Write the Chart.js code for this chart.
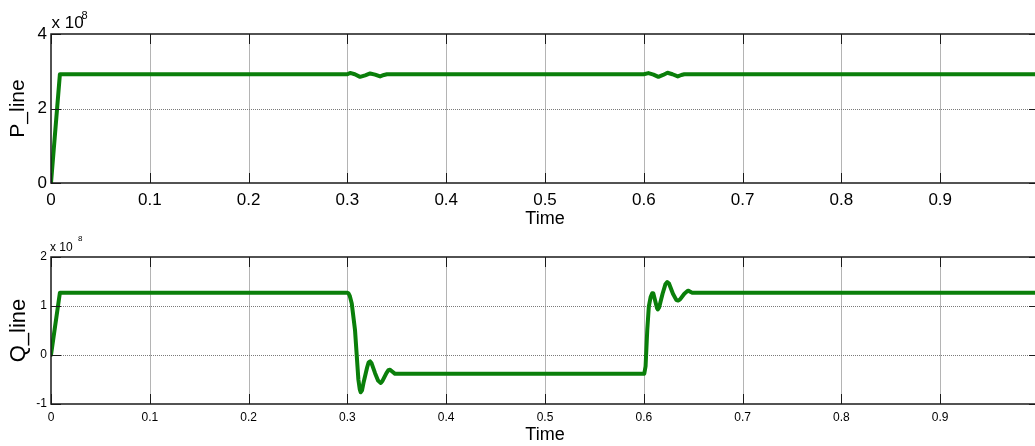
<!DOCTYPE html>
<html>
<head>
<meta charset="utf-8">
<title>P_line and Q_line vs Time</title>
<script src="https://cdn.jsdelivr.net/npm/chart.js@4.4.1/dist/chart.umd.min.js"></script>
<style>
  html, body { margin: 0; padding: 0; background: #ffffff; overflow: hidden; width: 1035px; height: 446px; }
  .panel { position: absolute; left: 0; }
  #wrapP { top: 0; width: 1045px; height: 230px; }
  #wrapQ { top: 230px; width: 1045px; height: 216px; }
  canvas { display: block; }
</style>
</head>
<body>
<div class="panel" id="wrapP"><canvas id="chartP" width="1045" height="230"></canvas></div>
<div class="panel" id="wrapQ"><canvas id="chartQ" width="1045" height="216"></canvas></div>
<script>
// ---------------- data (values in units of 10^8) ----------------
const timeTicks = [0, 0.1, 0.2, 0.3, 0.4, 0.5, 0.6, 0.7, 0.8, 0.9, 1];
const pTicks = [0, 2, 4];
const qTicks = [-1, 0, 1, 2];

const pTime  = [0, 0.009, 0.300, 0.3027, 0.3075, 0.3128, 0.318, 0.323, 0.328, 0.3331, 0.337, 0.340,
                0.600, 0.6047, 0.6098, 0.6148, 0.6195, 0.624, 0.629, 0.6344, 0.638, 0.641, 1.0];
const pValue = [0, 2.92, 2.92, 2.955, 2.92, 2.85, 2.89, 2.94, 2.91, 2.86, 2.90, 2.92,
                2.92, 2.95, 2.91, 2.85, 2.90, 2.96, 2.92, 2.86, 2.90, 2.92, 2.92];

const qTime  = [0, 0.009, 0.300, 0.3011, 0.3025, 0.3044, 0.3077, 0.3111, 0.3125, 0.3135, 0.3148,
                0.3165, 0.3200, 0.3215, 0.3230, 0.3245, 0.3280, 0.3310, 0.3338, 0.3355, 0.3395,
                0.3415, 0.3432, 0.3450, 0.3483,
                0.600, 0.6005, 0.6018, 0.6035, 0.6051, 0.6070, 0.6085, 0.6096, 0.6110, 0.6135,
                0.6142, 0.6155, 0.6190, 0.6220, 0.6237, 0.6255, 0.6295, 0.6330, 0.6348, 0.6365,
                0.6410, 0.6445, 0.6456, 0.6470, 0.6490, 1.0];
const qValue = [0, 1.27, 1.27, 1.26, 1.20, 1.05, 0.51, -0.50, -0.70, -0.76, -0.72,
                -0.55, -0.25, -0.15, -0.13, -0.17, -0.37, -0.52, -0.57, -0.53, -0.37,
                -0.31, -0.30, -0.33, -0.385,
                -0.385, -0.38, -0.23, 0.51, 0.99, 1.19, 1.26, 1.26, 1.15, 0.95,
                0.93, 0.97, 1.25, 1.45, 1.49, 1.46, 1.25, 1.12, 1.11, 1.13,
                1.25, 1.31, 1.31, 1.29, 1.27, 1.27];

// ---------------- styling ----------------
const FONT = "'Liberation Sans', Arial, Helvetica, sans-serif";
const GREEN = '#0a7f0a';

const matlabAxes = {
  id: 'matlabAxes',
  beforeDatasetsDraw(chart) {
    const { ctx, chartArea: a, scales: { x, y } } = chart;
    ctx.save();
    ctx.lineWidth = 1;
    ctx.strokeStyle = '#b4b4b4';
    x.ticks.forEach(t => {
      if (t.value <= x.min || t.value >= x.max) return;
      const px = Math.round(x.getPixelForValue(t.value)) + 0.5;
      ctx.beginPath(); ctx.moveTo(px, a.top); ctx.lineTo(px, a.bottom); ctx.stroke();
    });
    ctx.setLineDash([1, 1]);
    ctx.strokeStyle = '#7a7a7a';
    y.ticks.forEach(t => {
      if (t.value <= y.min || t.value >= y.max) return;
      const py = Math.round(y.getPixelForValue(t.value)) + 0.5;
      ctx.beginPath(); ctx.moveTo(a.left, py); ctx.lineTo(a.right, py); ctx.stroke();
    });
    ctx.restore();
  },
  afterDatasetsDraw(chart, args, o) {
    const { ctx, chartArea: a, scales: { x, y } } = chart;
    const len = o.tickLen || 10;
    ctx.save();
    ctx.strokeStyle = '#1a1a1a';
    ctx.lineWidth = 1;
    x.ticks.forEach(t => {
      const px = Math.round(x.getPixelForValue(t.value)) + 0.5;
      ctx.beginPath();
      ctx.moveTo(px, a.top); ctx.lineTo(px, a.top + len);
      ctx.moveTo(px, a.bottom); ctx.lineTo(px, a.bottom - len);
      ctx.stroke();
    });
    y.ticks.forEach(t => {
      const py = Math.round(y.getPixelForValue(t.value)) + 0.5;
      ctx.beginPath();
      ctx.moveTo(a.left, py); ctx.lineTo(a.left + len, py);
      ctx.moveTo(a.right, py); ctx.lineTo(a.right - len, py);
      ctx.stroke();
    });
    ctx.lineWidth = 1.5;
    ctx.strokeRect(a.left, a.top, a.right - a.left, a.bottom - a.top);
    ctx.restore();
  },
  afterDraw(chart, args, o) {
    const ctx = chart.ctx;
    ctx.save();
    ctx.fillStyle = '#000';
    ctx.textBaseline = 'alphabetic';
    ctx.textAlign = 'left';
    ctx.font = o.expSize + 'px ' + FONT;
    ctx.fillText('x 10', o.expX, o.expY);
    ctx.font = o.supSize + 'px ' + FONT;
    ctx.fillText('8', o.supX, o.supY);
    ctx.restore();
  }
};

function points(times, values) {
  return times.map((t, i) => ({ x: t, y: values[i] }));
}

function makeChart(id, cfg) {
  return new Chart(document.getElementById(id), {
    type: 'line',
    data: {
      datasets: [{
        data: points(cfg.times, cfg.values),
        borderColor: GREEN,
        backgroundColor: GREEN,
        borderWidth: 4,
        pointRadius: 0,
        tension: 0,
        borderJoinStyle: 'round',
        borderCapStyle: 'round',
        fill: false
      }]
    },
    options: {
      responsive: false,
      animation: false,
      devicePixelRatio: 1,
      layout: { padding: { top: cfg.padTop, right: 6, left: 0, bottom: 0 } },
      plugins: {
        legend: { display: false },
        tooltip: { enabled: false },
        matlabAxes: cfg.exp
      },
      scales: {
        x: {
          type: 'linear', min: 0, max: 1,
          afterBuildTicks: s => { s.ticks = timeTicks.map(v => ({ value: v })); },
          afterFit: s => { s.height = cfg.xHeight; s.paddingLeft = 0; s.paddingRight = 0; },
          grid: { display: false, drawTicks: false },
          border: { display: false },
          ticks: {
            padding: cfg.xTickPad, autoSkip: false, maxRotation: 0, color: '#000',
            font: { family: FONT, size: cfg.xTickSize },
            callback: v => String(v)
          },
          title: {
            display: true, text: 'Time', color: '#000',
            font: { family: FONT, size: 18, lineHeight: 1.2 },
            padding: { top: 0, bottom: 0 }
          }
        },
        y: {
          type: 'linear', min: cfg.yTicks[0], max: cfg.yTicks[cfg.yTicks.length - 1],
          afterBuildTicks: s => { s.ticks = cfg.yTicks.map(v => ({ value: v })); },
          afterFit: s => { s.width = 51; s.paddingTop = 0; s.paddingBottom = 0; },
          grid: { display: false, drawTicks: false },
          border: { display: false },
          ticks: {
            padding: 4, color: '#000',
            font: { family: FONT, size: cfg.yTickSize },
            callback: v => String(v)
          },
          title: {
            display: true, text: cfg.yTitle, color: '#000',
            font: { family: FONT, size: cfg.yTitleSize, lineHeight: 1.2 },
            padding: { top: 5.5, bottom: 0 }
          }
        }
      }
    },
    plugins: [matlabAxes]
  });
}

makeChart('chartP', {
  times: pTime, values: pValue, yTicks: pTicks, yTitle: 'P_line',
  padTop: 34, xHeight: 47, xTickPad: 7, xTickSize: 17, yTickSize: 17, yTitleSize: 21,
  exp: { tickLen: 10, expSize: 17, expX: 51.5, expY: 27.5, supSize: 11, supX: 81.5, supY: 18.5 }
});

makeChart('chartQ', {
  times: qTime, values: qValue, yTicks: qTicks, yTitle: 'Q_line',
  padTop: 27, xHeight: 42, xTickPad: 6, xTickSize: 12, yTickSize: 12, yTitleSize: 22,
  exp: { tickLen: 10, expSize: 12, expX: 50, expY: 21, supSize: 8, supX: 78, supY: 11 }
});
</script>
</body>
</html>
